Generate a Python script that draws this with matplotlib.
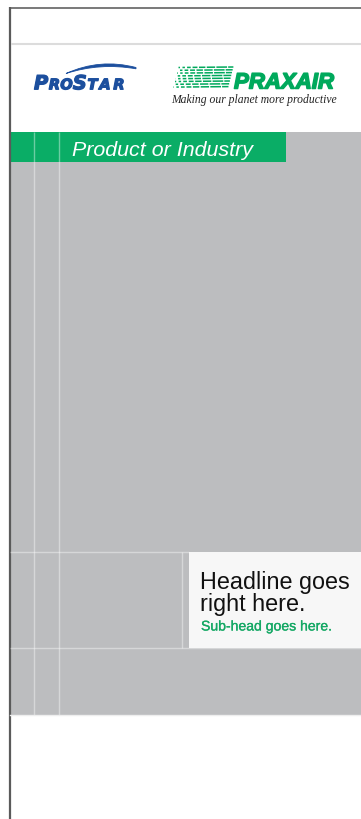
import matplotlib
matplotlib.use("Agg")
import matplotlib.pyplot as plt
import matplotlib.patheffects as pe
from matplotlib.patches import Rectangle, PathPatch
from matplotlib.path import Path

# ---- content ----
section_label = "Product or Industry"
headline_lines = ["Headline goes", "right here."]
subhead = "Sub-head goes here."
prostar_letters = ["P", "R", "O", "S", "T", "A", "R"]
prostar_big = [True, False, False, True, False, False, False]
praxair_word = "PRAXAIR"
praxair_tagline = "Making our planet more productive"

# ---- colours ----
GRAY = "#bcbdbf"
GREEN = "#0aad66"
PRAX_GREEN = "#00a95c"
BLUE = "#1c4f9e"
BOX = "#f7f7f7"
FRAME = "#5a5a5a"

W, H = 361, 819
fig = plt.figure(figsize=(W / 100, H / 100), dpi=100)
fig.patch.set_facecolor("white")
ax = fig.add_axes([0, 0, 1, 1])
ax.set_xlim(0, W)
ax.set_ylim(H, 0)
ax.axis("off")

# frame
ax.plot([9.5, W], [7.5, 7.5], color="#6e6e6e", lw=1.3, solid_capstyle="butt")
ax.plot([9.5, 9.5], [7, H], color=FRAME, lw=1.6, solid_capstyle="butt")
ax.plot([10.5, W], [43.5, 43.5], color="#dcdcdc", lw=1.5, solid_capstyle="butt")

# gray panel and green band
ax.add_patch(Rectangle((10.3, 131.5), W - 10.3, 715 - 131.5, facecolor=GRAY, edgecolor="none"))
ax.add_patch(Rectangle((10.3, 131.5), 286 - 10.3, 162 - 131.5, facecolor=GREEN, edgecolor="none"))

# grid lines
gl = dict(color="white", alpha=0.4, lw=1.0, solid_capstyle="butt")
for gx in (33.8, 58.8):
    ax.plot([gx, gx], [131.5, 715], **gl)
ax.plot([10.3, 189], [551.5, 551.5], **gl)
ax.plot([10.3, W], [647.5, 647.5], **gl)
ax.plot([182.2, 182.2], [551.5, 647.5], **gl)
ax.plot([10.3, W], [715.3, 715.3], color="#eeeeee", lw=1.0)

# headline box
ax.add_patch(Rectangle((189, 551.5), W - 189, 647.5 - 551.5, facecolor=BOX, edgecolor="none"))

SANS = ["Liberation Sans", "DejaVu Sans"]
ax.text(72, 155.5, section_label, fontsize=15.4, style="italic", color="white",
        family=SANS, va="baseline", ha="left")
ax.text(200.5, 588.5, headline_lines[0], fontsize=16.8, color="#111111",
        family=SANS, va="baseline", ha="left")
ax.text(200.5, 611, headline_lines[1], fontsize=16.8, color="#111111",
        family=SANS, va="baseline", ha="left")
ax.text(201, 630.5, subhead, fontsize=10.1, color="#14a864",
        family=SANS, va="baseline", ha="left",
        path_effects=[pe.withStroke(linewidth=0.2, foreground="#14a864")])

# ---- ProStar logo ----
px = [34, 48.8, 60.3, 72.8, 87.5, 99.3, 113.3]
thick_blue = [pe.withStroke(linewidth=0.9, foreground=BLUE)]
for ch, big, x in zip(prostar_letters, prostar_big, px):
    ax.text(x, 89.3, ch, fontsize=14.0 if big else 10.5, color=BLUE,
            family=["DejaVu Sans"], weight="bold", style="oblique",
            va="baseline", ha="left", path_effects=thick_blue)
# swoosh (crescent)
swoosh = Path([(66, 73.5), (100, 58), (136, 67.5), (136, 68.8), (100, 62.5), (66, 73.5), (66, 73.5)],
              [Path.MOVETO, Path.CURVE3, Path.CURVE3, Path.LINETO, Path.CURVE3, Path.CURVE3,
               Path.CLOSEPOLY])
ax.add_patch(PathPatch(swoosh, facecolor=BLUE, edgecolor=BLUE, lw=0.6))

# ---- Praxair logo ----
ax.text(234, 88.5, praxair_word, fontsize=16.0, color=PRAX_GREEN,
        family=["Liberation Sans"], weight="bold", style="italic",
        va="baseline", ha="left",
        path_effects=[pe.withStroke(linewidth=1.1, foreground=PRAX_GREEN)])
rows_y = [67.5, 70.3, 73.1, 75.9, 78.7, 81.5, 84.3, 87.1]
rows_x0 = [178.5, 178, 177, 176.5, 175.5, 175, 174, 173.5]
rows_off = [0.0, 1.3, 0.5, 1.8, 0.9, 0.2, 1.5, 0.7]
for ry, rx0, off in zip(rows_y, rows_x0, rows_off):
    ax.plot([rx0, 233.5 - (ry - 67) * 0.25], [ry, ry - 0.5], color=PRAX_GREEN, lw=1.1,
            linestyle=(off, (1.0, 1.6, 1.6, 1.4, 2.4, 1.2, 3.2, 1.0, 4.2, 0.9, 5.5, 0.8, 7, 0.7, 30, 0.5)),
            solid_capstyle="butt")
ax.text(171, 103, praxair_tagline, fontsize=8.35, style="italic", color="#222222",
        family=["Liberation Serif", "DejaVu Serif"], va="baseline", ha="left")

fig.savefig("out.png", dpi=100, facecolor="white")
